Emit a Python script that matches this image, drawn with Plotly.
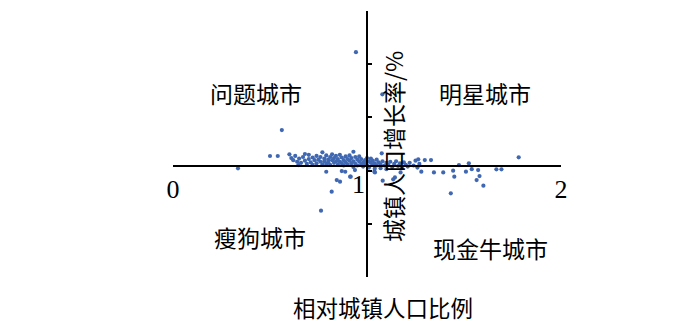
import plotly.graph_objects as go

# ---------------- data ----------------
# relative urban population ratio
ratio = [
    # outliers / scattered points
    0.943, 1.079, 0.561, 0.335, 0.500, 0.540, 0.600, 0.770, 0.930, 0.680,
    0.790, 0.844, 0.861, 0.818, 0.763, 0.870, 0.916, 0.938, 1.038, 0.888,
    0.913, 0.646, 1.076, 1.298, 1.330, 1.264, 1.474, 1.525, 1.667, 1.782,
    1.693, 1.041, 1.081, 1.144, 1.135, 1.173, 1.280, 1.345, 1.393, 1.444,
    1.450, 1.510, 1.540, 1.573, 1.580, 1.565, 1.600, 1.432,
    # dense cluster
    0.61, 0.62, 0.63, 0.64, 0.65, 0.66, 0.67, 0.68, 0.69, 0.70, 0.70,
    0.71, 0.72, 0.72, 0.73, 0.74, 0.74, 0.75, 0.76, 0.76, 0.77, 0.78, 0.78,
    0.79, 0.79, 0.80, 0.80,
    0.81, 0.81, 0.82, 0.82, 0.83, 0.83, 0.84, 0.84, 0.85, 0.85, 0.86, 0.86,
    0.87, 0.87, 0.88, 0.88, 0.89, 0.89, 0.90, 0.90,
    0.91, 0.91, 0.92, 0.92, 0.93, 0.93, 0.94, 0.94, 0.95, 0.95, 0.96, 0.96,
    0.97, 0.97, 0.98, 0.98, 0.99, 0.99, 1.00, 1.00,
    1.01, 1.01, 1.02, 1.02, 1.03, 1.03, 1.04, 1.04, 1.05, 1.05, 1.06, 1.07,
    1.07, 1.08, 1.09, 1.10, 1.10,
    1.11, 1.12, 1.13, 1.14, 1.15, 1.16, 1.17, 1.18, 1.19, 1.20, 1.21, 1.22,
    1.24, 1.25, 1.26, 1.27,
]
# urban population growth rate (%)
growth = [
    10.70, 6.74, 3.38, -0.22, 0.94, 0.94, 1.10, 1.29, 1.34, 1.13,
    -0.54, -1.32, -1.47, -2.41, -4.20, -0.47, -1.00, -0.38, -0.53, -0.54,
    -1.00, 0.09, 1.19, 0.56, 0.56, 0.63, 0.09, 0.25, -0.31, 0.82,
    -0.31, -0.60, -1.38, -1.07, -1.25, -0.60, -0.53, -0.60, -0.60, -0.44,
    -1.00, -0.53, -0.30, -0.38, -0.94, -1.32, -1.85, -2.57,
    0.75, 0.55, 0.95, 0.40, 0.70, 0.30, 0.85, 0.50, 0.20, 0.65, 1.05,
    0.35, 0.80, 0.10, 0.55, 0.95, 0.25, 0.60, 0.40, 0.85, 0.15, 0.70, 0.45,
    1.00, 0.20, 0.60, 0.35,
    0.85, 0.10, 0.55, 1.10, 0.30, 0.75, 0.45, 0.95, 0.15, 0.65, 0.40, 1.05,
    0.80, 0.25, 0.55, 0.05, 0.90, 0.35, 0.65, 0.15,
    0.50, 1.00, 0.25, 0.75, 0.45, -0.10, 0.85, 0.20, 0.60, 0.05, 0.40, 0.90,
    0.15, 0.65, 0.35, -0.05, 0.55, 0.20, 0.75, 0.10,
    0.45, -0.15, 0.30, 0.70, 0.10, 0.50, 0.25, -0.25, 0.60, 0.05, 0.35, 0.15,
    -0.20, 0.45, 0.05, 0.30, -0.30,
    0.10, 0.40, -0.10, 0.20, 0.45, 0.00, 0.25, -0.20, 0.35, 0.10, -0.05, 0.30,
    0.05, 0.50, -0.15, 0.20,
]

x_tick_vals = [0, 1, 2]
x_tick_text = ["0", "1", "2"]
x_title = "相对城镇人口比例"
y_title = "城镇人口增长率/%"
quadrant_text = ["问题城市", "明星城市", "瘦狗城市", "现金牛城市"]

# ---------------- layout constants ----------------
Y_MIN, Y_MAX = -10.43, 14.57
CJK = "Noto Sans CJK SC"
SERIF = "Liberation Serif"
zero_pos = (0 - Y_MIN) / (Y_MAX - Y_MIN)

fig = go.Figure()
fig.add_trace(go.Scatter(
    x=ratio, y=growth, mode="markers",
    marker=dict(size=4.2, color="#4068B2", line=dict(width=0)),
    showlegend=False, hoverinfo="skip",
))

fig.update_layout(
    width=700, height=322,
    margin=dict(l=173, r=139, t=11, b=45),
    paper_bgcolor="white", plot_bgcolor="white",
    xaxis=dict(
        range=[0, 2], anchor="free", position=zero_pos,
        tickvals=[x_tick_vals[0], x_tick_vals[2]],
        ticktext=[x_tick_text[0], x_tick_text[2]],
        ticks="inside", ticklen=4, tickwidth=1.5, tickcolor="black",
        showline=True, linewidth=2, linecolor="black",
        showgrid=False, zeroline=False,
        tickfont=dict(family=SERIF, size=26, color="black"),
    ),
    yaxis=dict(
        range=[Y_MIN, Y_MAX], anchor="free", position=0.5,
        tick0=Y_MIN, dtick=5,
        ticks="inside", ticklen=4, tickwidth=1.5, tickcolor="black",
        showline=True, linewidth=2, linecolor="black",
        showgrid=False, zeroline=False, showticklabels=False,
    ),
)

# tick label "1" placed just left of the vertical axis
fig.add_annotation(
    x=x_tick_vals[1], y=zero_pos, xref="x", yref="paper",
    text=x_tick_text[1], showarrow=False, xanchor="center", yanchor="top",
    xshift=-9, yshift=-2,
    font=dict(family=SERIF, size=26, color="black"),
)

# quadrant labels
quad_pos = [(0.428, 6.86), (1.608, 6.86), (0.448, -6.67), (1.634, -7.7)]
for txt, (qx, qy) in zip(quadrant_text, quad_pos):
    fig.add_annotation(
        x=qx, y=qy, xref="x", yref="y", text=txt, showarrow=False,
        xanchor="center", yanchor="middle",
        font=dict(family=CJK, size=23, color="black"),
    )

# axis titles
fig.add_annotation(
    x=0.541, y=-0.1165, xref="paper", yref="paper", text=x_title,
    showarrow=False, xanchor="center", yanchor="middle", borderpad=0,
    yshift=1,
    font=dict(family=CJK, size=22.5, color="black"),
)
fig.add_annotation(
    x=1.134, y=1.79, xref="x", yref="y", text=y_title, textangle=-90,
    showarrow=False, xanchor="center", yanchor="middle",
    font=dict(family=CJK, size=23, color="black"),
)

fig.write_html("out.html")
